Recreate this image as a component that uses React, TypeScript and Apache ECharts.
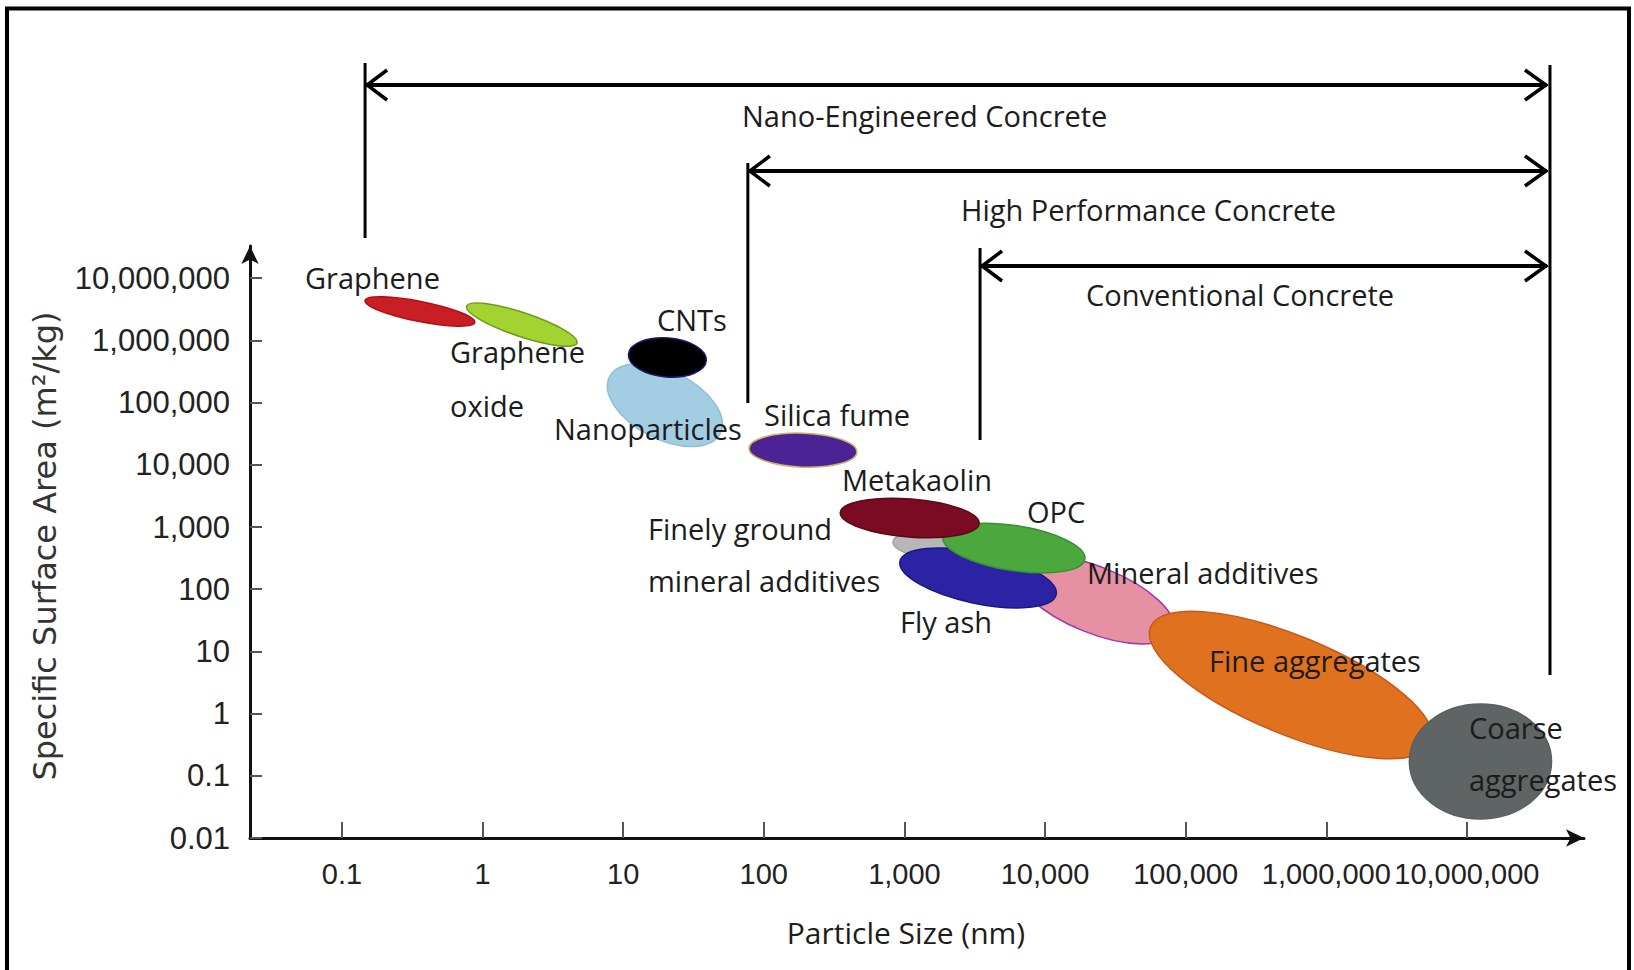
import React, { useEffect, useRef } from 'react';
import * as echarts from 'echarts';

// ---- data (particle size in nm, specific surface area in m²/kg) ----
const materials = [
  'Graphene', 'Graphene oxide', 'CNTs', 'Nanoparticles', 'Silica fume', 'Metakaolin',
  'Finely ground mineral additives', 'OPC', 'Fly ash', 'Mineral additives', 'Fine aggregates', 'Coarse aggregates',
];
// major-axis end points of each material's region
const sizeFrom = [0.146, 0.77, 10.9, 8.0, 78.5, 350, 830, 1880, 930, 6340, 56400, 3.9e6];
const sizeTo = [0.88, 4.7, 39, 49, 460, 3400, 6300, 19200, 12000, 81300, 5.6e6, 4.0e7];
const ssaFrom = [4.37e6, 3.55e6, 6.0e5, 2.6e5, 1.85e4, 1710, 580, 690, 280, 215, 24.8, 0.17];
const ssaTo = [1.95e6, 9.1e5, 4.7e5, 3.2e4, 1.6e4, 1140, 390, 305, 82, 20.9, 0.334, 0.17];

const concreteTypes = ['Nano-Engineered Concrete', 'High Performance Concrete', 'Conventional Concrete'];
const concreteSizeFrom = [0.146, 77, 3450];
const concreteSizeTo = [3.9e7, 3.9e7, 3.9e7];

const xTickValues = [0.1, 1, 10, 100, 1000, 10000, 100000, 1000000, 10000000];
const xTickLabels = ['0.1', '1', '10', '100', '1,000', '10,000', '100,000', '1,000,000', '10,000,000'];
const yTickValues = [0.01, 0.1, 1, 10, 100, 1000, 10000, 100000, 1000000, 10000000];
const yTickLabels = ['0.01', '0.1', '1', '10', '100', '1,000', '10,000', '100,000', '1,000,000', '10,000,000'];

// ---- styles / layout ----
const ellipseHalfWidths = [10, 12, 19.5, 34, 17, 19, 16, 22.5, 25.5, 33, 49, 57.5];
const fills = ['#c81e24', '#a2d330', '#000000', '#a3cde3', '#4c2294', '#7b0b22', '#b7b7b7', '#4aa83c', '#2c22a4', '#e590a3', '#e0711f', '#5f6464'];
const strokes = ['#b01018', '#6d9a1a', '#1b1b6b', '#8fbfd8', '#c9b46a', '#5e0818', '#a0a0a0', '#3a9030', '#1b1780', '#9a3aa8', '#c8581a', '#5a6060'];
const drawOrder = [0, 1, 3, 2, 4, 9, 6, 8, 7, 5, 10, 11];

const bracketArrowY = [85, 171, 266];
const bracketStemTop = [63, 163, 248];
const bracketStemBottom = [238, 403, 440];
const rightStem = [65, 675];

const labelFont = "'Open Sans', sans-serif";
const axisFont = "'Liberation Sans', Arial, sans-serif";

const lg = (v: number) => Math.round(Math.log10(v) * 1e6) / 1e6;
const fmt = (labels: string[], values: number[]) => (v: number) => {
  const i = values.findIndex((t) => Math.abs(lg(t) - v) < 1e-4);
  return i >= 0 ? labels[i] : '';
};

const texts: { text: string; x: number; y: number; lh?: number }[] = [
  { text: 'Graphene', x: 305, y: 277 },
  { text: 'Graphene\noxide', x: 450, y: 378, lh: 54 },
  { text: 'CNTs', x: 657, y: 319 },
  { text: 'Nanoparticles', x: 554, y: 428 },
  { text: 'Silica fume', x: 764, y: 414 },
  { text: 'Metakaolin', x: 842, y: 479 },
  { text: 'Finely ground\nmineral additives', x: 648, y: 554, lh: 52 },
  { text: 'OPC', x: 1027, y: 511 },
  { text: 'Mineral additives', x: 1087, y: 572 },
  { text: 'Fly ash', x: 900, y: 621 },
  { text: 'Fine aggregates', x: 1209, y: 660 },
  { text: 'Coarse\naggregates', x: 1469, y: 753, lh: 52 },
  { text: concreteTypes[0], x: 742, y: 115 },
  { text: concreteTypes[1], x: 961, y: 209 },
  { text: concreteTypes[2], x: 1086, y: 294 },
];

export default function App() {
  const ref = useRef<HTMLDivElement>(null);
  useEffect(() => {
    if (!ref.current) return;
    const chart = echarts.init(ref.current, null, { renderer: 'svg' });
    const xCustom = xTickValues.map(lg);
    const yCustom = yTickValues.map(lg);

    const option: any = {
      animation: false,
      backgroundColor: '#ffffff',
      grid: { left: 250, right: 50, top: 246, bottom: 132, containLabel: false },
      xAxis: {
        type: 'value',
        min: -1.654,
        max: 7.833,
        axisLine: { show: true, onZero: false, symbol: ['none', 'arrow'], symbolSize: [13, 18], lineStyle: { color: '#111', width: 3 } },
        axisTick: { show: true, inside: true, length: 16, customValues: xCustom, lineStyle: { color: '#555', width: 2 } },
        axisLabel: {
          customValues: xCustom,
          formatter: fmt(xTickLabels, xTickValues),
          fontFamily: axisFont,
          fontSize: 29,
          color: '#222',
          margin: 36,
          verticalAlign: 'middle',
          lineHeight: 31,
          hideOverlap: false,
          showMinLabel: true,
          showMaxLabel: true,
        },
        splitLine: { show: false },
      },
      yAxis: {
        type: 'value',
        min: -2,
        max: 7.518,
        axisLine: { show: true, onZero: false, symbol: ['none', 'arrow'], symbolSize: [13, 18], lineStyle: { color: '#111', width: 3 } },
        axisTick: { show: true, inside: true, length: 12, customValues: yCustom, lineStyle: { color: '#555', width: 2 } },
        axisLabel: {
          customValues: yCustom,
          formatter: fmt(yTickLabels, yTickValues),
          fontFamily: axisFont,
          fontSize: 31,
          color: '#222',
          margin: 20,
          hideOverlap: false,
        },
        splitLine: { show: false },
      },
      series: [
        {
          type: 'custom',
          name: 'Materials',
          coordinateSystem: 'cartesian2d',
          clip: false,
          silent: true,
          encode: { x: [0, 2], y: [1, 3] },
          data: drawOrder.map((i) => [lg(sizeFrom[i]), lg(ssaFrom[i]), lg(sizeTo[i]), lg(ssaTo[i]), i]),
          renderItem: (_p: any, api: any) => {
            const i = api.value(4);
            const p1 = api.coord([api.value(0), api.value(1)]);
            const p2 = api.coord([api.value(2), api.value(3)]);
            const cx = (p1[0] + p2[0]) / 2;
            const cy = (p1[1] + p2[1]) / 2;
            const rx = Math.hypot(p2[0] - p1[0], p2[1] - p1[1]) / 2;
            const ang = Math.atan2(p2[1] - p1[1], p2[0] - p1[0]);
            return {
              type: 'ellipse',
              x: cx,
              y: cy,
              rotation: -ang,
              shape: { cx: 0, cy: 0, rx, ry: ellipseHalfWidths[i] },
              style: { fill: fills[i], stroke: strokes[i], lineWidth: 1.5 },
            };
          },
        },
        {
          type: 'custom',
          name: 'Concrete types',
          coordinateSystem: 'cartesian2d',
          clip: false,
          silent: true,
          encode: { x: [0, 1], y: 2 },
          data: concreteSizeFrom.map((v, i) => [lg(v), lg(concreteSizeTo[i]), i]),
          renderItem: (_p: any, api: any) => {
            const i = api.value(2);
            const xL = api.coord([api.value(0), -2])[0];
            const xR = api.coord([api.value(1), -2])[0];
            const y = bracketArrowY[i];
            const st = { stroke: '#000', fill: 'none', lineWidth: 3.5 };
            const children: any[] = [
              { type: 'line', shape: { x1: xL, y1: bracketStemTop[i], x2: xL, y2: bracketStemBottom[i] }, style: { stroke: '#000', lineWidth: 3 } },
              { type: 'line', shape: { x1: xL, y1: y, x2: xR - 3, y2: y }, style: { stroke: '#000', lineWidth: 4 } },
              { type: 'polyline', shape: { points: [[xL + 22, y - 15], [xL + 2, y], [xL + 22, y + 15]] }, style: st },
              { type: 'polyline', shape: { points: [[xR - 25, y - 15], [xR - 4, y], [xR - 25, y + 15]] }, style: st },
            ];
            if (i === 0) {
              children.push({ type: 'line', shape: { x1: xR, y1: rightStem[0], x2: xR, y2: rightStem[1] }, style: { stroke: '#000', lineWidth: 3 } });
            }
            return { type: 'group', children };
          },
        },
      ],
      graphic: [
        { type: 'rect', z: 0, silent: true, shape: { x: 7, y: 8.5, width: 1622, height: 1000 }, style: { fill: 'none', stroke: '#000', lineWidth: 4 } },
        ...texts.map((t) => ({
          type: 'text',
          z: 100,
          x: t.x,
          y: t.y,
          silent: true,
          style: {
            text: t.text,
            fontFamily: labelFont,
            fontSize: 29,
            fill: '#1c1c1c',
            align: 'left',
            verticalAlign: 'middle',
            lineHeight: t.lh || 34,
          },
        })),
        {
          type: 'text',
          z: 100,
          x: 906,
          y: 932,
          silent: true,
          style: { text: 'Particle Size (nm)', fontFamily: labelFont, fontSize: 30, fill: '#1c1c1c', align: 'center', verticalAlign: 'middle' },
        },
        {
          type: 'text',
          z: 100,
          x: 45,
          y: 546,
          rotation: Math.PI / 2,
          silent: true,
          style: { text: 'Specific Surface Area (m²/kg)', fontFamily: "'DejaVu Sans', sans-serif", fontSize: 32, fill: '#333', align: 'center', verticalAlign: 'middle' },
        },
      ],
    };
    chart.setOption(option);
    return () => chart.dispose();
  }, []);
  return <div ref={ref} style={{ position: 'fixed', left: 0, top: 0, width: 1634, height: 970, background: '#fff' }} />;
}
